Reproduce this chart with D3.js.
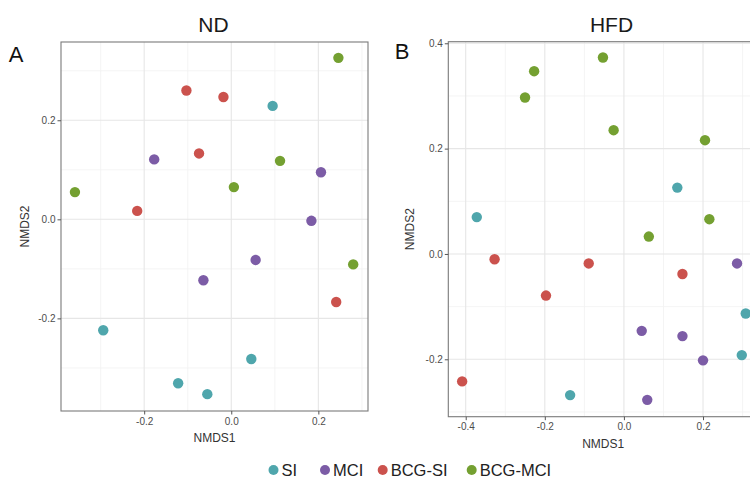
<!DOCTYPE html>
<html>
<head>
<meta charset="utf-8">
<script src="https://cdn.jsdelivr.net/npm/d3@7"></script>
<style>
html,body{margin:0;padding:0;background:#fff;overflow:hidden;}
svg{display:block;font-family:"Liberation Sans",Arial,sans-serif;}
</style>
</head>
<body>
<svg id="chart" width="750" height="479"></svg>
<script>
// ---- data (NMDS1, NMDS2) ----
const groups = ["SI", "MCI", "BCG-SI", "BCG-MCI"];
const colors = ["#4fa6ac", "#7c5ca6", "#cb524d", "#74a031"];

const ndSI     = [[0.095, 0.229], [-0.294, -0.224], [0.046, -0.282], [-0.122, -0.331], [-0.055, -0.353]];
const ndMCI    = [[-0.177, 0.121], [0.206, 0.095], [0.184, -0.003], [0.056, -0.082], [-0.064, -0.123]];
const ndBCGSI  = [[-0.103, 0.260], [-0.018, 0.247], [-0.074, 0.133], [-0.216, 0.017], [0.241, -0.167]];
const ndBCGMCI = [[0.246, 0.326], [0.112, 0.118], [-0.359, 0.055], [0.006, 0.065], [0.280, -0.091]];

const hfdSI     = [[0.135, 0.126], [-0.372, 0.070], [0.308, -0.113], [0.298, -0.192], [-0.136, -0.268]];
const hfdMCI    = [[0.286, -0.018], [0.045, -0.146], [0.148, -0.156], [0.200, -0.202], [0.059, -0.277]];
const hfdBCGSI  = [[-0.327, -0.010], [-0.089, -0.018], [0.148, -0.038], [-0.197, -0.079], [-0.409, -0.242]];
const hfdBCGMCI = [[-0.053, 0.373], [-0.227, 0.347], [-0.250, 0.297], [-0.026, 0.235], [0.205, 0.216], [0.216, 0.066], [0.063, 0.033]];

const ndTicks = [-0.2, 0.0, 0.2];
const ndMinor = [-0.3, -0.1, 0.1, 0.3];
const hfdXTicks = [-0.4, -0.2, 0.0, 0.2];
const hfdYTicks = [-0.2, 0.0, 0.2, 0.4];
const hfdMinor = [-0.3, -0.1, 0.1, 0.3];

const panels = [
  {title: "ND", tag: "A", series: [ndSI, ndMCI, ndBCGSI, ndBCGMCI],
   xdom: [-0.391, 0.314], ydom: [-0.387, 0.358],
   x0: 61, x1: 368, y0: 42, y1: 411,
   xticks: ndTicks, yticks: ndTicks, xminor: ndMinor, yminor: ndMinor,
   tagX: 16, tagY: 62, titleX: 213.5, titleY: 32, ylabX: 29},
  {title: "HFD", tag: "B", series: [hfdSI, hfdMCI, hfdBCGSI, hfdBCGMCI],
   xdom: [-0.444, 0.339], ydom: [-0.309, 0.403],
   x0: 448.3, x1: 758, y0: 41.7, y1: 416.7,
   xticks: hfdXTicks, yticks: hfdYTicks, xminor: hfdMinor, yminor: hfdMinor,
   tagX: 402, tagY: 59, titleX: 611.5, titleY: 32, ylabX: 414}
];

const svg = d3.select("#chart");
const fmt = d => d === 0 ? "0.0" : d3.format(".1f")(d).replace("−", "-");

panels.forEach(p => {
  const x = d3.scaleLinear().domain(p.xdom).range([p.x0, p.x1]);
  const y = d3.scaleLinear().domain(p.ydom).range([p.y1, p.y0]);
  const g = svg.append("g");

  g.append("rect").attr("x", p.x0).attr("y", p.y0)
    .attr("width", p.x1 - p.x0).attr("height", p.y1 - p.y0).attr("fill", "#fff");

  // minor grid
  g.selectAll(".mx").data(p.xminor).join("line")
    .attr("x1", d => x(d)).attr("x2", d => x(d)).attr("y1", p.y0).attr("y2", p.y1)
    .attr("stroke", "#f1f1f1").attr("stroke-width", 0.8);
  g.selectAll(".my").data(p.yminor).join("line")
    .attr("y1", d => y(d)).attr("y2", d => y(d)).attr("x1", p.x0).attr("x2", p.x1)
    .attr("stroke", "#f1f1f1").attr("stroke-width", 0.8);

  // major grid
  g.selectAll(".gx").data(p.xticks.filter(d => x(d) >= p.x0 && x(d) <= p.x1)).join("line")
    .attr("x1", d => x(d)).attr("x2", d => x(d)).attr("y1", p.y0).attr("y2", p.y1)
    .attr("stroke", "#e6e6e6").attr("stroke-width", 1.1);
  g.selectAll(".gy").data(p.yticks.filter(d => y(d) >= p.y0 - 1 && y(d) <= p.y1)).join("line")
    .attr("y1", d => y(d)).attr("y2", d => y(d)).attr("x1", p.x0).attr("x2", p.x1)
    .attr("stroke", "#e6e6e6").attr("stroke-width", 1.1);

  // points
  p.series.forEach((s, i) => {
    g.selectAll(null).data(s).join("circle")
      .attr("cx", d => x(d[0])).attr("cy", d => y(d[1])).attr("r", 5.2)
      .attr("fill", colors[i]);
  });

  // border
  g.append("rect").attr("x", p.x0).attr("y", p.y0)
    .attr("width", p.x1 - p.x0).attr("height", p.y1 - p.y0)
    .attr("fill", "none").attr("stroke", "#7a7a7a").attr("stroke-width", 1.1);

  // axes
  const xa = svg.append("g").attr("transform", `translate(0,${p.y1})`)
    .call(d3.axisBottom(x).tickValues(p.xticks).tickSize(3.5).tickPadding(3).tickFormat(fmt));
  const ya = svg.append("g").attr("transform", `translate(${p.x0},0)`)
    .call(d3.axisLeft(y).tickValues(p.yticks).tickSize(3.5).tickPadding(2).tickFormat(fmt));
  [xa, ya].forEach(a => {
    a.select(".domain").remove();
    a.selectAll(".tick line").attr("stroke", "#555");
    a.selectAll(".tick text").attr("fill", "#4d4d4d").style("font-size", "10px")
      .style("font-family", "'Liberation Sans', Arial, sans-serif");
  });

  // titles
  svg.append("text").attr("x", p.titleX).attr("y", p.titleY)
    .attr("text-anchor", "middle").style("font-size", "21px").attr("fill", "#1a1a1a").text(p.title);
  svg.append("text").attr("x", p.tagX).attr("y", p.tagY)
    .attr("text-anchor", "middle").style("font-size", "22px").attr("fill", "#111").text(p.tag);
  svg.append("text").attr("x", (p.x0 + p.x1) / 2).attr("y", p.y1 + 31)
    .attr("text-anchor", "middle").style("font-size", "12px").attr("fill", "#333").text("NMDS1");
  svg.append("text").attr("transform", `translate(${p.ylabX},${(p.y0 + p.y1) / 2}) rotate(-90)`)
    .attr("text-anchor", "middle").style("font-size", "12px").attr("fill", "#333").text("NMDS2");
});

// legend
const legX = [273.5, 325, 382.7, 471.7];
const leg = svg.append("g");
groups.forEach((name, i) => {
  leg.append("circle").attr("cx", legX[i]).attr("cy", 470).attr("r", 5).attr("fill", colors[i]);
  leg.append("text").attr("x", legX[i] + 8).attr("y", 475.5).style("font-size", "16.5px")
    .attr("fill", "#222").text(name);
});
</script>
</body>
</html>
